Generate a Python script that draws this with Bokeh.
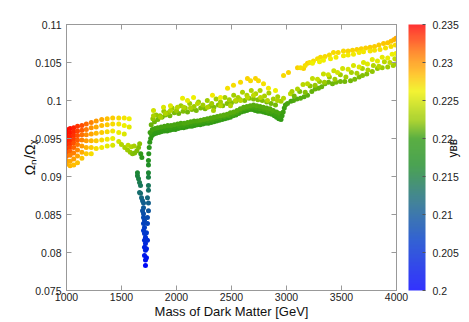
import numpy as np
from bokeh.plotting import figure
from bokeh.models import (ColumnDataSource, LinearColorMapper, ColorBar, FixedTicker,
                          CustomJSTickFormatter, LinearAxis, Range1d)
from bokeh.transform import transform
from bokeh.embed import file_html
from bokeh.resources import INLINE

# ---------------- data ----------------
x_ticks = [1000, 1500, 2000, 2500, 3000, 3500, 4000]
y_ticks = [0.075, 0.08, 0.085, 0.09, 0.095, 0.1, 0.105, 0.11]
cb_ticks = [0.2, 0.205, 0.21, 0.215, 0.22, 0.225, 0.23, 0.235]
x_title = "Mass of Dark Matter [GeV]"
y_title = "Ω\u2099/Ω\u1d6a"
cb_title = "y\u0299\u0299"

# left fan (red -> yellow), one column per mass
fan_mass = [1000, 1033, 1066, 1100, 1140, 1180, 1225, 1270, 1320, 1370, 1420, 1475, 1525, 1570]
fan_omega = [
    [0.0962, 0.0957, 0.0952, 0.0947, 0.0942, 0.0937, 0.0932, 0.0927, 0.0921, 0.0916],
    [0.0963, 0.0958, 0.0953, 0.0948, 0.0943, 0.0938, 0.0933, 0.0928, 0.0920, 0.0914],
    [0.0964, 0.0959, 0.0954, 0.0949, 0.0944, 0.0938, 0.0931, 0.0923, 0.0915],
    [0.0966, 0.0960, 0.0954, 0.0948, 0.0942, 0.0935, 0.0927, 0.0918],
    [0.0967, 0.0961, 0.0955, 0.0948, 0.0940, 0.0932, 0.0924],
    [0.0969, 0.0962, 0.0955, 0.0947, 0.0938, 0.0930],
    [0.0971, 0.0964, 0.0956, 0.0947, 0.0938, 0.0930],
    [0.0973, 0.0965, 0.0957, 0.0947, 0.0937],
    [0.0975, 0.0967, 0.0958, 0.0948, 0.0938],
    [0.0976, 0.0968, 0.0959, 0.0949, 0.0940],
    [0.0977, 0.0969, 0.0960, 0.0950, 0.0941],
    [0.0977, 0.0969, 0.0958, 0.0946],
    [0.0977, 0.0967, 0.0956],
    [0.0976, 0.0965],
]
fan_ybb = [
    [0.2348, 0.2346, 0.2344, 0.2341, 0.2338, 0.2333, 0.2325, 0.2315, 0.2300, 0.2292],
    [0.2345, 0.2343, 0.2340, 0.2337, 0.2333, 0.2327, 0.2318, 0.2308, 0.2292, 0.2286],
    [0.2340, 0.2337, 0.2334, 0.2330, 0.2325, 0.2318, 0.2308, 0.2296, 0.2284],
    [0.2333, 0.2329, 0.2325, 0.2320, 0.2313, 0.2304, 0.2294, 0.2282],
    [0.2325, 0.2320, 0.2314, 0.2307, 0.2298, 0.2290, 0.2280],
    [0.2316, 0.2310, 0.2303, 0.2296, 0.2288, 0.2278],
    [0.2307, 0.2300, 0.2293, 0.2286, 0.2278, 0.2270],
    [0.2298, 0.2292, 0.2285, 0.2278, 0.2270],
    [0.2290, 0.2284, 0.2278, 0.2272, 0.2264],
    [0.2283, 0.2278, 0.2272, 0.2266, 0.2258],
    [0.2277, 0.2272, 0.2266, 0.2260, 0.2252],
    [0.2272, 0.2267, 0.2260, 0.2250],
    [0.2267, 0.2262, 0.2254],
    [0.2262, 0.2256],
]

# green hook before the dip
hook_mass = [1500, 1530, 1555, 1580, 1600, 1620, 1640, 1655, 1665, 1675, 1685, 1560, 1590, 1615]
hook_omega = [0.0942, 0.0938, 0.0935, 0.0932, 0.0930, 0.0931, 0.0934, 0.0938, 0.0943, 0.0930, 0.0925,
              0.0941, 0.0939, 0.0940]
hook_ybb = [0.2236, 0.2232, 0.2228, 0.2224, 0.2220, 0.2218, 0.2218, 0.2219, 0.2221, 0.2195, 0.2185,
            0.2240, 0.2236, 0.2232]

# the dip near 1700 GeV
dip_mass = [1645, 1645, 1655, 1664, 1673, 1664, 1673, 1682, 1691, 1700, 1700, 1691, 1700, 1700,
            1709, 1700, 1709, 1700, 1709, 1718, 1709, 1718, 1709, 1718, 1709, 1718, 1718,
            1745, 1745, 1745, 1745, 1745, 1745, 1736, 1745, 1745, 1736, 1736, 1727, 1736, 1727, 1727]
dip_omega = [0.0905, 0.0901, 0.0897, 0.0892, 0.0888, 0.0879, 0.0878, 0.0872, 0.0868, 0.0865, 0.0859,
             0.0855, 0.0851, 0.0846, 0.0842, 0.0838, 0.0833, 0.0829, 0.0825, 0.0820, 0.0816, 0.0812,
             0.0807, 0.0803, 0.0796, 0.0790, 0.0783,
             0.0921, 0.0915, 0.0905, 0.0899, 0.0888, 0.0882, 0.0872, 0.0865, 0.0855, 0.0846, 0.0838,
             0.0826, 0.0816, 0.0805, 0.0793]
dip_ybb = [0.2158, 0.2154, 0.2150, 0.2144, 0.2138, 0.2128, 0.2126, 0.2118, 0.2112, 0.2108, 0.2100,
           0.2095, 0.2090, 0.2084, 0.2079, 0.2075, 0.2070, 0.2065, 0.2060, 0.2054, 0.2050, 0.2045,
           0.2040, 0.2035, 0.2027, 0.2018, 0.2010,
           0.2175, 0.2168, 0.2158, 0.2150, 0.2138, 0.2132, 0.2120, 0.2110, 0.2098, 0.2086, 0.2077,
           0.2063, 0.2050, 0.2036, 0.2022]

# right branch: lowest dark-green strand
low1_mass = [1748, 1752, 1757, 1765, 1778, 1795, 1815, 1840, 1865, 1890, 1915, 1940, 1965, 1990, 2015,
             2040, 2065, 2090, 2115, 2140, 2165, 2190, 2215, 2240, 2265, 2290, 2315, 2340, 2365, 2390,
             2415, 2440, 2465, 2490, 2515, 2540, 2565, 2590, 2615, 2640, 2665, 2690, 2715, 2740, 2765,
             2790, 2815, 2840, 2865, 2890, 2910, 2930, 2950]
low1_omega = [0.0930, 0.0938, 0.0945, 0.0950, 0.0954, 0.0956, 0.0957, 0.0958, 0.0959, 0.0960, 0.0960,
              0.0961, 0.0962, 0.0962, 0.0963, 0.0964, 0.0964, 0.0965, 0.0966, 0.0966, 0.0967, 0.0968,
              0.0968, 0.0969, 0.0970, 0.0970, 0.0971, 0.0972, 0.0973, 0.0974, 0.0975, 0.0976, 0.0977,
              0.0978, 0.0980, 0.0981, 0.0983, 0.0985, 0.0986, 0.0987, 0.0988, 0.0988, 0.0987, 0.0986,
              0.0986, 0.0985, 0.0984, 0.0983, 0.0982, 0.0980, 0.0978, 0.0976, 0.0975]
low1_ybb = [0.2180, 0.2186, 0.2190, 0.2192, 0.2194, 0.2195, 0.2195, 0.2195, 0.2196, 0.2196, 0.2196,
            0.2196, 0.2196, 0.2197, 0.2197, 0.2197, 0.2197, 0.2197, 0.2198, 0.2198, 0.2198, 0.2198,
            0.2198, 0.2198, 0.2198, 0.2198, 0.2198, 0.2199, 0.2199, 0.2199, 0.2199, 0.2199, 0.2199,
            0.2199, 0.2200, 0.2200, 0.2200, 0.2200, 0.2200, 0.2200, 0.2200, 0.2200, 0.2200, 0.2200,
            0.2200, 0.2200, 0.2200, 0.2200, 0.2200, 0.2199, 0.2199, 0.2198, 0.2198]

# in-between dark-green strand
low3_mass = [1772, 1800, 1835, 1870, 1905, 1945, 1985, 2025, 2060, 2095, 2135, 2175, 2210, 2245, 2285,
             2325, 2360, 2395, 2435, 2475, 2510, 2545, 2580, 2620, 2655, 2690, 2725, 2760, 2795, 2830,
             2865, 2900, 2935]
low3_omega = [0.0956, 0.0960, 0.0961, 0.0962, 0.0963, 0.0964, 0.0965, 0.0966, 0.0967, 0.0968, 0.0969,
              0.0970, 0.0971, 0.0972, 0.0973, 0.0974, 0.0976, 0.0977, 0.0979, 0.0980, 0.0982, 0.0984,
              0.0987, 0.0989, 0.0990, 0.0991, 0.0990, 0.0989, 0.0988, 0.0986, 0.0985, 0.0982, 0.0979]
low3_ybb = [0.2196, 0.2198, 0.2199, 0.2199, 0.2200, 0.2200, 0.2200, 0.2201, 0.2201, 0.2201, 0.2202,
            0.2202, 0.2202, 0.2202, 0.2203, 0.2203, 0.2203, 0.2203, 0.2204, 0.2204, 0.2204, 0.2204,
            0.2205, 0.2205, 0.2205, 0.2205, 0.2205, 0.2204, 0.2204, 0.2204, 0.2203, 0.2202, 0.2201]

# second strand just above
low2_mass = [1760, 1780, 1805, 1830, 1860, 1890, 1920, 1950, 1980, 2010, 2040, 2070, 2100, 2130, 2160,
             2190, 2220, 2250, 2280, 2310, 2340, 2370, 2400, 2430, 2460, 2490, 2520, 2550, 2580, 2610,
             2640, 2670, 2700, 2730, 2760, 2790, 2820, 2850, 2880, 2910, 2940]
low2_omega = [0.0958, 0.0962, 0.0963, 0.0964, 0.0965, 0.0966, 0.0967, 0.0967, 0.0968, 0.0969, 0.0970,
              0.0970, 0.0971, 0.0972, 0.0973, 0.0973, 0.0974, 0.0975, 0.0976, 0.0977, 0.0978, 0.0979,
              0.0980, 0.0981, 0.0982, 0.0984, 0.0985, 0.0987, 0.0989, 0.0991, 0.0992, 0.0993, 0.0994,
              0.0993, 0.0992, 0.0991, 0.0990, 0.0989, 0.0987, 0.0985, 0.0983]
low2_ybb = [0.2202, 0.2203, 0.2203, 0.2204, 0.2204, 0.2204, 0.2205, 0.2205, 0.2205, 0.2205, 0.2205,
            0.2206, 0.2206, 0.2206, 0.2206, 0.2206, 0.2207, 0.2207, 0.2207, 0.2207, 0.2207, 0.2207,
            0.2208, 0.2208, 0.2208, 0.2208, 0.2208, 0.2208, 0.2208, 0.2208, 0.2208, 0.2208, 0.2208,
            0.2208, 0.2207, 0.2207, 0.2207, 0.2207, 0.2206, 0.2205, 0.2205]

# middle green scatter
mid_mass = [1770, 1800, 1830, 1870, 1900, 1940, 1980, 2020, 2060, 2100, 2140, 2180, 2220, 2260, 2300,
            2340, 2380, 2420, 2460, 2500, 2540, 2580, 2620, 2660, 2700, 2740, 2780, 2820, 2860, 2900]
mid_omega = [0.0968, 0.0972, 0.0975, 0.0978, 0.0981, 0.0980, 0.0984, 0.0983, 0.0986, 0.0985, 0.0988,
             0.0987, 0.0990, 0.0989, 0.0992, 0.0991, 0.0994, 0.0993, 0.0996, 0.0997, 0.0999, 0.1001,
             0.1000, 0.1003, 0.1002, 0.1001, 0.1000, 0.0998, 0.0996, 0.0994]
mid_ybb = [0.2212, 0.2214, 0.2215, 0.2216, 0.2217, 0.2216, 0.2217, 0.2216, 0.2218, 0.2216, 0.2218,
           0.2217, 0.2218, 0.2217, 0.2219, 0.2218, 0.2219, 0.2218, 0.2219, 0.2219, 0.2220, 0.2220,
           0.2219, 0.2220, 0.2219, 0.2219, 0.2218, 0.2217, 0.2216, 0.2215]

# second middle scatter (yellow-green)
mid2_mass = [1785, 1815, 1850, 1885, 1925, 1960, 2000, 2040, 2080, 2120, 2160, 2200, 2240, 2280, 2320,
             2360, 2400, 2440, 2480, 2520, 2560, 2600, 2640, 2680, 2720, 2760, 2800, 2840, 2880, 2920,
             2950]
mid2_omega = [0.0976, 0.0981, 0.0980, 0.0986, 0.0984, 0.0990, 0.0987, 0.0993, 0.0990, 0.0996, 0.0992,
              0.0998, 0.0994, 0.1000, 0.0996, 0.1002, 0.0998, 0.1004, 0.1001, 0.1007, 0.1004, 0.1011,
              0.1007, 0.1013, 0.1009, 0.1013, 0.1006, 0.1010, 0.1002, 0.1005, 0.0999]
mid2_ybb = [0.2222, 0.2223, 0.2224, 0.2224, 0.2225, 0.2225, 0.2226, 0.2226, 0.2226, 0.2227, 0.2227,
            0.2227, 0.2228, 0.2228, 0.2228, 0.2229, 0.2229, 0.2230, 0.2230, 0.2231, 0.2232, 0.2233,
            0.2234, 0.2234, 0.2235, 0.2234, 0.2233, 0.2232, 0.2231, 0.2230, 0.2229]

# yellow-green scatter
yg_mass = [1791, 1855, 1900, 1945, 2009, 2064, 2127, 2191, 2282, 2336, 2400, 2491, 2536, 2582, 2645,
           2700, 2764, 2827, 2918, 2973, 3036]
yg_omega = [0.0980, 0.0978, 0.0983, 0.0987, 0.0991, 0.0991, 0.0990, 0.0996, 0.0991, 0.0987, 0.0993,
            0.0993, 0.1000, 0.1000, 0.1004, 0.1007, 0.1004, 0.1000, 0.1000, 0.1003, 0.1009]
yg_ybb = [0.2232, 0.2230, 0.2234, 0.2236, 0.2238, 0.2236, 0.2235, 0.2238, 0.2234, 0.2232, 0.2236,
          0.2235, 0.2238, 0.2238, 0.2240, 0.2241, 0.2239, 0.2236, 0.2235, 0.2237, 0.2240]

# upper yellow scatter
up_mass = [1791, 1882, 1945, 2055, 2100, 2155, 2327, 2400, 2464, 2518, 2582, 2645, 2673, 2718, 2745,
           2791, 2836, 2900, 2973, 3018, 3100, 3155, 3191]
up_omega = [0.0987, 0.0991, 0.0993, 0.1003, 0.1000, 0.1004, 0.1007, 0.1004, 0.1016, 0.1020, 0.1024,
            0.1029, 0.1026, 0.1029, 0.1026, 0.1022, 0.1016, 0.1013, 0.1033, 0.1037, 0.1043, 0.1042,
            0.1049]
up_ybb = [0.2248, 0.2252, 0.2255, 0.2260, 0.2258, 0.2262, 0.2264, 0.2262, 0.2268, 0.2270, 0.2272,
          0.2274, 0.2272, 0.2274, 0.2272, 0.2268, 0.2264, 0.2262, 0.2272, 0.2274, 0.2276, 0.2275,
          0.2278]

# right part 2950-4000: rising lower band
rl_mass = [2960, 2970, 2980, 2990, 3009, 3040, 3064, 3095, 3127, 3160, 3191, 3230, 3260, 3291, 3320,
           3350, 3382, 3418, 3450, 3490, 3530, 3582, 3620, 3660, 3691, 3730, 3780, 3827, 3870, 3920,
           3970, 3995]
rl_omega = [0.0980, 0.0985, 0.0990, 0.0994, 0.0996, 0.0999, 0.1000, 0.1002, 0.1003, 0.1005, 0.1007,
            0.1012, 0.1015, 0.1016, 0.1018, 0.1022, 0.1024, 0.1022, 0.1024, 0.1025, 0.1025, 0.1026,
            0.1028, 0.1031, 0.1033, 0.1035, 0.1038, 0.1042, 0.1043, 0.1044, 0.1046, 0.1048]
rl_ybb = [0.2200, 0.2201, 0.2202, 0.2203, 0.2204, 0.2205, 0.2206, 0.2207, 0.2208, 0.2209, 0.2210,
          0.2211, 0.2212, 0.2212, 0.2213, 0.2214, 0.2215, 0.2214, 0.2215, 0.2215, 0.2216, 0.2216,
          0.2217, 0.2218, 0.2219, 0.2220, 0.2222, 0.2224, 0.2226, 0.2228, 0.2230, 0.2232]

# right part: green band between
rg_mass = [3070, 3120, 3170, 3215, 3260, 3300, 3345, 3390, 3440, 3490, 3540, 3590, 3640, 3690, 3740,
           3790, 3840, 3890, 3940, 3985]
rg_omega = [0.1006, 0.1012, 0.1011, 0.1019, 0.1020, 0.1025, 0.1024, 0.1031, 0.1028, 0.1034, 0.1031,
            0.1037, 0.1036, 0.1042, 0.1040, 0.1046, 0.1045, 0.1051, 0.1050, 0.1055]
rg_ybb = [0.2215, 0.2218, 0.2220, 0.2222, 0.2224, 0.2225, 0.2226, 0.2228, 0.2228, 0.2229, 0.2230,
          0.2231, 0.2232, 0.2233, 0.2234, 0.2236, 0.2237, 0.2238, 0.2240, 0.2242]

# right part: middle yellow-green band
rm_mass = [3050, 3100, 3150, 3191, 3236, 3282, 3336, 3380, 3430, 3464, 3510, 3560, 3609, 3660, 3700,
           3736, 3780, 3827, 3870, 3920, 3960, 3995]
rm_omega = [0.1012, 0.1015, 0.1021, 0.1022, 0.1029, 0.1028, 0.1035, 0.1034, 0.1039, 0.1037, 0.1042,
            0.1041, 0.1046, 0.1044, 0.1050, 0.1048, 0.1054, 0.1052, 0.1057, 0.1056, 0.1061, 0.1062]
rm_ybb = [0.2232, 0.2235, 0.2238, 0.2240, 0.2242, 0.2244, 0.2246, 0.2248, 0.2248, 0.2249, 0.2250,
          0.2251, 0.2252, 0.2253, 0.2254, 0.2255, 0.2256, 0.2257, 0.2258, 0.2259, 0.2260, 0.2262]

# right part: two upper yellow lines
ru_mass = [3127, 3170, 3210, 3245, 3282, 3309, 3350, 3390, 3427, 3470, 3518, 3560, 3600, 3640, 3680,
           3720, 3760, 3800, 3840, 3882, 3920, 3950, 3975, 3995,
           3236, 3300, 3336, 3400, 3450, 3518, 3560, 3609, 3660, 3700, 3760, 3800, 3850, 3900, 3950, 3990]
ru_omega = [0.1043, 0.1046, 0.1050, 0.1052, 0.1055, 0.1057, 0.1058, 0.1060, 0.1063, 0.1063, 0.1065,
            0.1065, 0.1066, 0.1067, 0.1068, 0.1069, 0.1070, 0.1071, 0.1073, 0.1075, 0.1076, 0.1078,
            0.1080, 0.1082,
            0.1049, 0.1051, 0.1053, 0.1055, 0.1057, 0.1059, 0.1060, 0.1061, 0.1063, 0.1064, 0.1065,
            0.1066, 0.1067, 0.1069, 0.1071, 0.1073]
ru_ybb = [0.2268, 0.2268, 0.2269, 0.2270, 0.2270, 0.2271, 0.2271, 0.2272, 0.2272, 0.2273, 0.2273,
          0.2274, 0.2274, 0.2275, 0.2275, 0.2276, 0.2277, 0.2277, 0.2278, 0.2279, 0.2280, 0.2282,
          0.2285, 0.2290,
          0.2262, 0.2262, 0.2263, 0.2263, 0.2264, 0.2264, 0.2265, 0.2265, 0.2266, 0.2266, 0.2267,
          0.2268, 0.2268, 0.2269, 0.2270, 0.2272]

# ---------------- assemble ----------------
m_all, o_all, c_all = [], [], []
for m, col_o, col_c in zip(fan_mass, fan_omega, fan_ybb):
    for o, c in zip(col_o, col_c):
        m_all.append(m); o_all.append(o); c_all.append(c)
for ms, os_, cs in [(hook_mass, hook_omega, hook_ybb), (dip_mass, dip_omega, dip_ybb),
                    (low1_mass, low1_omega, low1_ybb), (low3_mass, low3_omega, low3_ybb),
                    (low2_mass, low2_omega, low2_ybb), (mid_mass, mid_omega, mid_ybb),
                    (mid2_mass, mid2_omega, mid2_ybb), (yg_mass, yg_omega, yg_ybb),
                    (up_mass, up_omega, up_ybb), (rl_mass, rl_omega, rl_ybb),
                    (rg_mass, rg_omega, rg_ybb), (rm_mass, rm_omega, rm_ybb),
                    (ru_mass, ru_omega, ru_ybb)]:
    m_all += ms; o_all += os_; c_all += cs

source = ColumnDataSource(dict(m=m_all, o=o_all, c=c_all))

# palette: blue -> green -> yellow -> red
stops = [(0.0, (0, 0, 255)), (0.19, (0, 60, 200)), (0.33, (20, 100, 130)), (0.47, (30, 140, 40)),
         (0.57, (50, 155, 20)), (0.64, (150, 200, 0)), (0.75, (240, 240, 0)), (0.81, (255, 190, 0)),
         (0.90, (255, 110, 0)), (1.0, (255, 0, 0))]
palette = []
for i in range(256):
    t = i / 255
    for (t0, c0), (t1, c1) in zip(stops[:-1], stops[1:]):
        if t0 <= t <= t1:
            f = (t - t0) / (t1 - t0)
            rgb = [int(round(a + (b - a) * f)) for a, b in zip(c0, c1)]
            palette.append("#%02x%02x%02x" % tuple(rgb))
            break
mapper = LinearColorMapper(palette=palette, low=0.2, high=0.235)

FONT = "Liberation Sans"
fmt = CustomJSTickFormatter(code="return String(Math.round(tick*1000)/1000);")
blank = CustomJSTickFormatter(code="return '';")

p = figure(width=469, height=322, output_backend="svg", toolbar_location=None,
           x_range=Range1d(1000, 4000), y_range=Range1d(0.075, 0.11),
           min_border_left=66, min_border_right=73, min_border_top=24, min_border_bottom=32)
p.grid.visible = False
p.outline_line_color = "#999999"
p.background_fill_color = "white"
p.border_fill_color = "white"

p.scatter("m", "o", source=source, size=5, line_color=None,
          fill_color=transform("c", mapper))

for ax in (p.xaxis[0], p.yaxis[0]):
    ax.axis_line_color = "#999999"
    ax.major_tick_line_color = "#999999"
    ax.major_tick_in = 5
    ax.major_tick_out = 0
    ax.minor_tick_line_color = None
    ax.major_label_text_font = FONT
    ax.major_label_text_font_size = "10.5px"
    ax.major_label_text_color = "#222222"
    ax.axis_label_text_font = FONT
    ax.axis_label_text_font_style = "normal"
    ax.axis_label_text_color = "#111111"
p.xaxis[0].ticker = FixedTicker(ticks=x_ticks)
p.yaxis[0].ticker = FixedTicker(ticks=y_ticks)
p.yaxis[0].formatter = fmt
p.xaxis[0].major_label_standoff = 2
p.yaxis[0].major_label_standoff = 5
p.xaxis[0].axis_label = x_title
p.xaxis[0].axis_label_text_font_size = "13px"
p.xaxis[0].axis_label_standoff = 0
p.yaxis[0].axis_label = y_title
p.yaxis[0].axis_label_text_font_size = "14px"
p.yaxis[0].axis_label_standoff = -6

# mirrored ticks on top and right
top = LinearAxis(ticker=FixedTicker(ticks=x_ticks), formatter=blank,
                 major_tick_in=5, major_tick_out=0, minor_tick_line_color=None,
                 axis_line_color="#999999", major_tick_line_color="#999999", major_label_standoff=0)
right = LinearAxis(ticker=FixedTicker(ticks=y_ticks), formatter=blank,
                   major_tick_in=5, major_tick_out=0, minor_tick_line_color=None,
                   axis_line_color="#999999", major_tick_line_color="#999999", major_label_standoff=0)
p.add_layout(top, "above")
p.add_layout(right, "right")

cb = ColorBar(color_mapper=mapper, width=17, height=266, padding=0, margin=0,
              location=(12, 0), ticker=FixedTicker(ticks=cb_ticks), formatter=fmt,
              major_label_text_font=FONT, major_label_text_font_size="10.5px",
              major_label_text_color="#222222", label_standoff=7,
              major_tick_line_color="#555555", major_tick_in=3, major_tick_out=0,
              minor_tick_line_color=None, bar_line_color=None, border_line_color=None,
              background_fill_color=None, scale_alpha=0.8)
p.add_layout(cb, "right")

# colour-bar title as the label of an otherwise invisible outer axis
cb_axis = LinearAxis(ticker=FixedTicker(ticks=[]), formatter=blank, axis_line_color=None,
                     major_tick_line_color=None, minor_tick_line_color=None,
                     major_tick_in=0, major_tick_out=0, minor_tick_in=0, minor_tick_out=0,
                     major_label_standoff=0, major_label_text_font_size="1px",
                     axis_label=cb_title, axis_label_standoff=-9,
                     axis_label_text_font=FONT, axis_label_text_font_size="12px",
                     axis_label_text_font_style="normal", axis_label_text_color="#111111")
if "axis_label_orientation" in cb_axis.properties():
    cb_axis.axis_label_orientation = np.pi / 2
p.add_layout(cb_axis, "right")

open("out.html", "w").write(file_html(p, INLINE))
